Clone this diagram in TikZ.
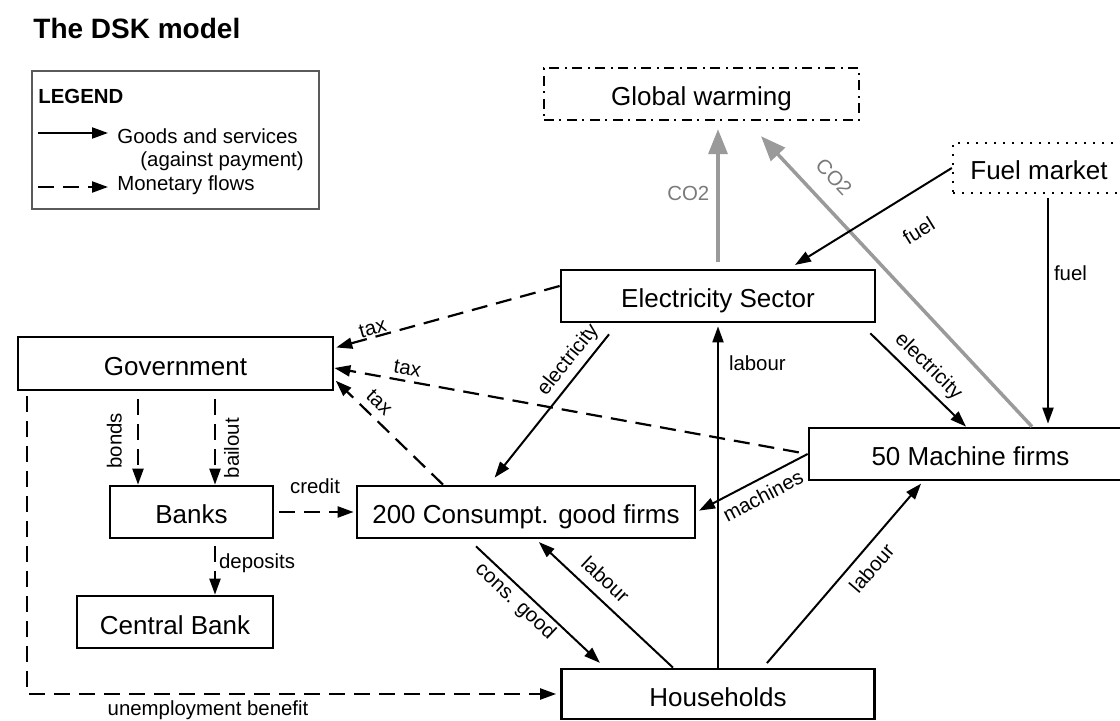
\documentclass[tikz,border=0pt]{standalone}
\usepackage{fontspec}
\setmainfont{Liberation Sans}
\usetikzlibrary{arrows.meta}
\definecolor{cotwo}{HTML}{9A9A9A}
\definecolor{cotwotext}{HTML}{7A7A7A}
\definecolor{legline}{HTML}{5A5A5A}

\begin{document}
\begin{tikzpicture}[x=0.5pt, y=-0.5pt,
    box/.style={draw, line width=1.35pt, inner sep=0pt, text height=12pt, text depth=0pt,
      font=\fontsize{13}{15}\selectfont},
    lbl/.style={font=\fontsize{10.2}{12}\selectfont, inner sep=2pt},
    flow/.style={-{Triangle[length=8pt,width=5.5pt]}, line width=1pt},
    money/.style={flow, line width=1.1pt, dash pattern=on 8pt off 4.5pt},
    co2/.style={-{Triangle[length=12.5pt,width=9.5pt]}, line width=1.75pt, color=cotwo}]
    \useasboundingbox (0,0) rectangle (1120,721);
    \node[anchor=base west, inner sep=0pt, font=\fontsize{14}{16}\selectfont\bfseries] (title) at (33,39) {The DSK model};

    \node[draw=legline, line width=0.8pt, minimum width=143.5pt, minimum height=69pt, inner sep=0pt] (legend) at (175.5,140) {};
    \node[anchor=base west, inner sep=0pt, font=\fontsize{10.2}{12}\selectfont\bfseries] (legtitle) at (38,104) {LEGEND};
    \coordinate (goodsa) at (38,133);
    \coordinate (goodsb) at (108,133);
    \draw[flow] (goodsa) -- (goodsb);
    \node[lbl, anchor=base west, inner sep=0pt] (goodstxt) at (117,144) {Goods and services};
    \node[lbl, anchor=base west, inner sep=0pt] (paytxt) at (140,166.5) {(against payment)};
    \coordinate (moneya) at (38,187);
    \coordinate (moneyb) at (108,187);
    \draw[money] (moneya) -- (moneyb);
    \node[lbl, anchor=base west, inner sep=0pt] (moneytxt) at (117,191) {Monetary flows};

    \foreach \id/\px/\py/\w/\h/\txt in {
      elec/718/296/157/26/Electricity Sector,
      gov/175.5/363.5/157.5/26.5/Government,
      mach/970.5/454/161.5/26/50 Machine firms,
      banks/191.5/512/81.5/26/Banks,
      cons/526/512/169/26/200 Consumpt. good firms,
      cbank/175/622/98/26/Central Bank,
      hh/718/694/156.5/25/Households}{
      \node[box, minimum width=\w pt, minimum height=\h pt] (\id) at (\px,\py) {\txt};
    }
    \node[box, line width=1.2pt, minimum width=157.5pt, minimum height=26pt,
      dash pattern=on 5pt off 2.5pt on 1pt off 3pt] (gw) at (701.5,94) {Global warming};
    \node[box, line width=1.2pt, minimum width=86pt, minimum height=25pt,
      dash pattern=on 1pt off 3.5pt] (fuel) at (1039,168) {Fuel market};

    \draw[co2, shorten <=3.5pt, shorten >=4pt] (elec.north) -- (elec.north |- gw.south)
      node[lbl, pos=0.51, left, inner sep=3.5pt, text=cotwotext] {CO2};
    \draw[co2] ([xshift=30.75pt]mach.north) -- ([xshift=29.75pt,yshift=-7.5pt]gw.south)
      node[lbl, pos=0.8, sloped, above, inner sep=8.3pt, text=cotwotext] {CO2};

    \draw[flow, shorten >=3.5pt] (fuel.west) -- ([xshift=35.5pt]elec.north)
      node[lbl, pos=0.32, sloped, below, inner sep=13.7pt] {fuel};
    \draw[flow, shorten <=2pt, shorten >=1.5pt] ([xshift=4.5pt]fuel.south) -- ([xshift=4.5pt]fuel.south |- mach.north)
      node[lbl, pos=0.34, right, inner sep=2.5pt] {fuel};
    \draw[flow] ([xshift=-3pt,yshift=-5pt]elec.south east) -- ([xshift=-2.25pt]mach.north)
      node[lbl, pos=0.485, sloped, above, inner sep=3pt] {electricity};
    \draw[flow, shorten >=4.5pt] ([xshift=-54.5pt,yshift=-5.5pt]elec.south) -- ([xshift=-18.5pt]cons.north)
      node[lbl, pos=0.236, sloped, above, inner sep=2.6pt] {electricity};
    \draw[flow, shorten >=1.5pt] (hh.north) -- (elec.south)
      node[lbl, pos=0.885, right, inner sep=5pt] {labour};

    \draw[money, shorten >=1pt] ([yshift=5pt]elec.west) -- ([yshift=7.75pt]gov.east)
      node[lbl, pos=0.82, sloped, above, inner sep=0.5pt] {tax};
    \draw[money, shorten <=4.5pt] (mach.west) -- ([yshift=-2.25pt]gov.east)
      node[lbl, pos=0.85, sloped, above, inner sep=2.2pt] {tax};
    \draw[money, shorten >=1pt] ([xshift=-41.5pt]cons.north) -- ([yshift=6pt]gov.south east)
      node[lbl, pos=0.68, sloped, above, inner sep=3.5pt] {tax};

    \draw[money, shorten <=4pt] ([xshift=-26.75pt]banks.north |- gov.south) -- ([xshift=-26.75pt]banks.north)
      node[lbl, pos=0.53, rotate=90, anchor=south, inner sep=7.5pt] {bonds};
    \draw[money, shorten <=4pt] ([xshift=11.75pt]banks.north |- gov.south) -- ([xshift=11.75pt]banks.north)
      node[lbl, pos=0.61, rotate=90, anchor=north, inner sep=4pt] {bailout};
    \draw[money, shorten <=2.5pt, shorten >=1pt] (banks.east) -- (cons.west)
      node[lbl, midway, above, inner sep=8.5pt] {credit};
    \draw[money, shorten <=3.5pt] ([xshift=11.75pt]banks.south) -- ([xshift=11.75pt]banks.south |- cbank.north)
      node[lbl, pos=0.43, right, inner sep=1.5pt] {deposits};
    \draw[money, shorten <=2.5pt, shorten >=2pt] ([xshift=5pt]gov.south west) |- (hh.west)
      node[lbl, pos=0.67, below, inner sep=3pt] {unemployment benefit};

    \draw[flow, shorten >=1.5pt] (mach.west) -- (cons.east)
      node[lbl, pos=0.47, sloped, below, inner sep=3.9pt] {machines};
    \draw[flow, shorten >=3.5pt] ([xshift=-25pt,yshift=-3.5pt]cons.south) -- ([xshift=-56.5pt]hh.north)
      node[lbl, pos=0.374, sloped, below, inner sep=1.5pt] {cons. good};
    \draw[flow, shorten >=2pt] ([xshift=-22.5pt]hh.north) -- ([xshift=5pt]cons.south)
      node[lbl, pos=0.584, sloped, above, inner sep=5pt] {labour};
    \draw[flow, shorten <=3pt, shorten >=1.5pt] ([xshift=22.5pt]hh.north) -- ([xshift=-23.75pt]mach.south)
      node[lbl, pos=0.596, sloped, below, inner sep=4.5pt] {labour};
\end{tikzpicture}
\end{document}
